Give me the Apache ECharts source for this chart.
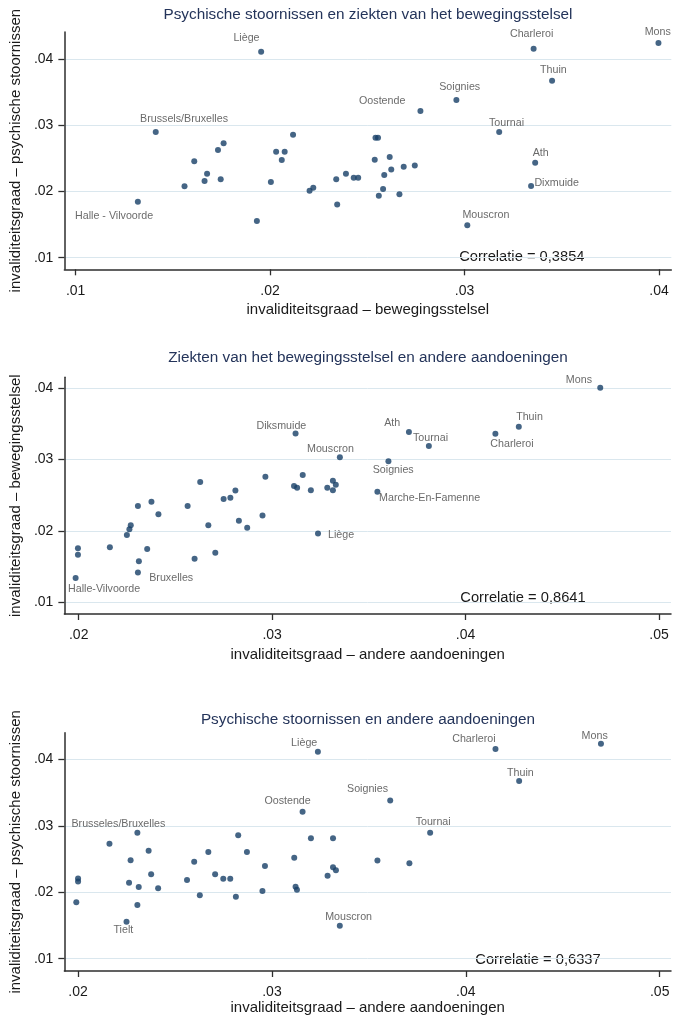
<!DOCTYPE html>
<html><head><meta charset="utf-8">
<script src="https://cdn.jsdelivr.net/npm/echarts@6/dist/echarts.min.js"></script>
<style>html,body{margin:0;padding:0;background:#fff}#c{width:673px;height:1019px}</style>
</head><body><div id="c"></div>
<script>
// ---------- data ----------
const titles = [
  'Psychische stoornissen en ziekten van het bewegingsstelsel',
  'Ziekten van het bewegingsstelsel en andere aandoeningen',
  'Psychische stoornissen en andere aandoeningen'
];
const xNames = [
  'invaliditeitsgraad \u2013 bewegingsstelsel',
  'invaliditeitsgraad \u2013 andere aandoeningen',
  'invaliditeitsgraad \u2013 andere aandoeningen'
];
const yNames = [
  'invaliditeitsgraad \u2013 psychische stoornissen',
  'invaliditeitsgraad \u2013 bewegingsstelsel',
  'invaliditeitsgraad \u2013 psychische stoornissen'
];
const correlations = ['Correlatie = 0,3854', 'Correlatie = 0,8641', 'Correlatie = 0,6337'];
const xTicks = [[0.01, 0.02, 0.03, 0.04], [0.02, 0.03, 0.04, 0.05], [0.02, 0.03, 0.04, 0.05]];
const yTicks = [0.01, 0.02, 0.03, 0.04];

// Chart 1: x = bewegingsstelsel, y = psychische stoornissen
const c1X = [.01954,.01412,.01320,.01560,.01610,.01663,.01676,.01732,.01761,.01746,.01932,.02004,.02031,.02060,.02075,.02118,.02203,.02222,.02340,.02345,.02390,.02430,.02453,.02538,.02542,.02555,.02615,.02587,.02623,.02581,.02559,.02665,.02687,.02744,.02773,.02958,.03355,.03997,.03450,.03178,.03363,.03342,.03014];
const c1Y = [.04115,.0290,.01846,.02079,.02457,.02159,.02269,.02628,.02729,.02185,.01554,.02144,.02602,.02477,.02602,.02859,.02012,.02057,.02185,.01806,.02269,.02209,.02209,.02481,.02814,.02814,.02522,.0225,.02333,.02038,.01935,.01958,.02375,.02396,.03218,.03384,.0416,.04247,.03676,.0290,.02436,.02083,.01489];
const c1Labels = ['Liège','Brussels/Bruxelles','Halle - Vilvoorde','','','','','','','','','','','','','','','','','','','','','','','','','','','','','','','','Oostende','Soignies','Charleroi','Mons','Thuin','Tournai','Ath','Dixmuide','Mouscron'];

// Chart 2: x = andere aandoeningen, y = bewegingsstelsel
const c2X = [.01996,.01996,.01984,.02161,.02249,.02262,.02269,.02306,.02354,.02311,.02306,.02376,.02412,.02563,.02628,.02599,.02670,.02706,.02749,.02784,.02810,.02828,.02871,.02950,.02965,.03121,.03113,.03129,.03158,.03200,.03237,.03285,.03314,.03329,.03314,.03350,.03601,.03544,.03707,.03810,.04154,.04275,.04696];
const c2Y = [.01754,.01664,.01337,.01768,.0194,.0202,.02077,.02348,.01744,.01571,.01414,.02408,.02232,.02348,.02685,.01608,.02077,.01691,.02446,.02464,.02565,.0214,.02042,.02214,.02759,.03365,.02628,.02605,.02783,.02568,.01962,.02605,.02703,.02645,.02568,.03031,.02977,.02548,.03386,.0319,.03363,.03461,.04008];
const c2Labels = ['','','Halle-Vilvoorde','','','','','','','','Bruxelles','','','','','','','','','','','','','','','Diksmuide','','','','','Liège','','','','','Mouscron','Soignies','Marche-En-Famenne','Ath','Tournai','Charleroi','Thuin','Mons'];

// Chart 3: x = andere aandoeningen, y = psychische stoornissen
const c3X = [.01991,.0200,.0200,.02162,.02306,.02271,.02364,.02263,.02313,.02377,.02413,.02306,.0225,.02562,.02599,.02628,.02672,.02707,.02749,.02785,.02814,.02826,.02871,.02964,.02951,.03115,.03122,.03129,.03158,.03201,.03237,.03287,.03315,.03315,.0333,.0335,.0361,.03544,.03709,.03816,.04153,.04275,.04697];
const c3Y = [.0185,.02207,.02162,.0273,.02896,.0248,.02625,.02144,.02079,.02271,.02059,.01808,.01557,.02184,.02459,.01954,.02605,.0227,.02204,.02204,.01933,.02857,.02605,.02395,.02019,.0252,.02083,.02037,.0321,.02811,.04114,.02249,.02811,.02375,.02332,.01495,.0338,.02478,.02437,.02896,.04155,.03674,.04235];
const c3Labels = ['','','','','Brusseles/Bruxelles','','','','','','','','Tielt','','','','','','','','','','','','','','','','Oostende','','Liège','','','','','Mouscron','Soignies','','','Tournai','Charleroi','Thuin','Mons'];

// ---------- layout ----------
const FONT = '"Liberation Sans", Arial, Helvetica, sans-serif';
const grids = [
  {left: 62.3, top: 32, width: 609, height: 237.3},
  {left: 62.3, top: 377.3, width: 608.7, height: 236.7},
  {left: 64, top: 732.7, width: 607, height: 238.3}
];
const xRange = [[0.009421, 0.04063], [0.019258, 0.050618], [0.019294, 0.050582]];
const yRange = [[0.008245, 0.04413], [0.008315, 0.041544], [0.00815, 0.044]];
const xNameGap = [33, 33.5, 28];
const titleY = [15, 357.3, 719.3];
const corrPos = [[521.8, 256.7], [523, 598.3], [538, 960]];
// label offsets: [dx, dy, align]
const labelPos = [
  {'Liège':[-14.7,-13.4,'center'],'Brussels/Bruxelles':[28.3,-13,'center'],'Halle - Vilvoorde':[-23.7,14.6,'center'],
   'Oostende':[-38.2,-10.3,'center'],'Soignies':[3.3,-12.7,'center'],'Charleroi':[-2,-14.7,'center'],'Mons':[-0.7,-10.7,'center'],
   'Thuin':[1.3,-10.4,'center'],'Tournai':[7.3,-9,'center'],'Ath':[5.6,-9.4,'center'],'Dixmuide':[3.3,-3,'left'],'Mouscron':[18.6,-10.6,'center']},
  {'Mons':[-21.3,-7.7,'center'],'Thuin':[10.7,-9.4,'center'],'Charleroi':[16.6,10.3,'center'],'Ath':[-16.7,-9.3,'center'],
   'Tournai':[1.7,-7.7,'center'],'Soignies':[4.8,8.8,'center'],'Marche-En-Famenne':[1.7,6,'left'],'Diksmuide':[-14.2,-7.8,'center'],
   'Mouscron':[-9.4,-8,'center'],'Liège':[10,2,'left'],'Bruxelles':[11.3,5.8,'left'],'Halle-Vilvoorde':[28.5,11.3,'center']},
  {'Liège':[-13.7,-9,'center'],'Oostende':[-15,-10.8,'center'],'Brusseles/Bruxelles':[-19,-9,'center'],'Tielt':[-3.2,8.3,'center'],
   'Mouscron':[8.8,-9.1,'center'],'Soignies':[-22.7,-11.5,'center'],'Charleroi':[-21.6,-10.3,'center'],'Mons':[-6.3,-8,'center'],
   'Thuin':[1.3,-8,'center'],'Tournai':[3,-10.7,'center']}
];

const dataX = [c1X, c2X, c3X], dataY = [c1Y, c2Y, c3Y], dataL = [c1Labels, c2Labels, c3Labels];
const fmt = v => v.toFixed(2).replace(/^0/, '');
const AXIS_COLOR = '#2e2e2e';

const option = {
  backgroundColor: '#fff',
  animation: false,
  grid: grids.map(g => Object.assign({containLabel: false}, g)),
  xAxis: grids.map((g, i) => ({
    type: 'value', gridIndex: i, min: xRange[i][0], max: xRange[i][1],
    axisLine: {show: true, onZero: false, lineStyle: {color: AXIS_COLOR, width: 1.5}},
    axisTick: {show: true, length: 6, customValues: xTicks[i], lineStyle: {color: AXIS_COLOR, width: 1.3}},
    axisLabel: {customValues: xTicks[i], formatter: fmt, margin: 14.5, color: '#1a1a1a', fontSize: 14, fontFamily: FONT},
    splitLine: {show: false},
    name: xNames[i], nameLocation: 'middle', nameGap: xNameGap[i],
    nameTextStyle: {color: '#1a1a1a', fontSize: 15, fontFamily: FONT}
  })),
  yAxis: grids.map((g, i) => ({
    type: 'value', gridIndex: i, min: yRange[i][0], max: yRange[i][1],
    axisLine: {show: true, onZero: false, lineStyle: {color: AXIS_COLOR, width: 1.5}},
    axisTick: {show: true, length: 6, customValues: yTicks, lineStyle: {color: AXIS_COLOR, width: 1.3}},
    axisLabel: {customValues: yTicks, formatter: fmt, margin: 11, color: '#1a1a1a', fontSize: 14, fontFamily: FONT},
    splitLine: {show: true, lineStyle: {color: '#dae7ee', width: 1}},
    name: yNames[i], nameLocation: 'middle', nameGap: 40, nameRotate: 90,
    nameTextStyle: {color: '#1a1a1a', fontSize: 15, fontFamily: FONT}
  })),
  graphic: [
    ...titles.map((t, i) => ({
      type: 'text', x: 368, y: titleY[i],
      style: {text: t, fill: '#24345a', font: '15.3px ' + FONT, align: 'center', verticalAlign: 'middle'}
    })),
    ...correlations.map((t, i) => ({
      type: 'text', x: corrPos[i][0], y: corrPos[i][1],
      style: {text: t, fill: '#1a1a1a', font: '14.7px ' + FONT, align: 'center', verticalAlign: 'middle'}
    }))
  ],
  series: grids.map((g, i) => ({
    type: 'scatter', xAxisIndex: i, yAxisIndex: i,
    symbol: 'circle', symbolSize: 6,
    itemStyle: {color: '#173f66'},
    silent: true,
    data: dataX[i].map((x, k) => {
      const nm = dataL[i][k];
      const item = {value: [x, dataY[i][k]], name: nm};
      if (nm && labelPos[i][nm]) {
        const p = labelPos[i][nm];
        item.label = {show: true, position: 'inside', offset: [p[0], p[1]], align: p[2], verticalAlign: 'middle',
          formatter: nm, color: '#454545', fontSize: 10.7, fontFamily: FONT};
      }
      return item;
    })
  }))
};
const chart = echarts.init(document.getElementById('c'), null, {renderer: 'canvas'});
chart.setOption(option);
</script></body></html>
